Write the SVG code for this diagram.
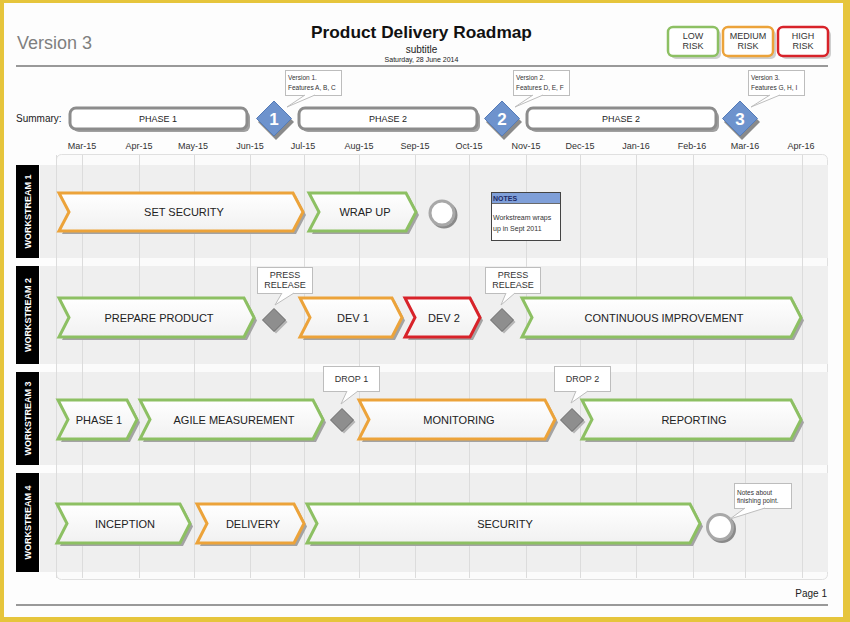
<svg xmlns="http://www.w3.org/2000/svg" width="850" height="622" viewBox="0 0 850 622">
<defs>
<linearGradient id="chev" x1="0" y1="0" x2="0" y2="1">
<stop offset="0" stop-color="#ffffff"/><stop offset="1" stop-color="#f1f1f1"/>
</linearGradient>
<style>
text{font-family:"Liberation Sans",Arial,sans-serif;fill:#222}
.ch{fill:url(#chev);stroke-width:3;stroke-linejoin:miter}
.g{stroke:#8dc063}.o{stroke:#eca33a}.r{stroke:#d8232a}
.sh{fill:#a3a3a3}
.lbl{font-size:11px;text-anchor:middle}
.mon{font-size:9px;text-anchor:middle;fill:#333}
.ws{font-size:9px;font-weight:bold;fill:#fff;text-anchor:middle}
.wsb{fill:#000}
.lane{fill:#efefef}
.vl{stroke:#dcdcdc;stroke-width:1}
.phase{fill:#fff;stroke:#8c8c8c;stroke-width:3}
.psh{fill:#a0a0a0}
.bd{fill:#6e93cd;stroke:#557bb7;stroke-width:1}
.bdn{font-size:17px;font-weight:bold;fill:#fff;text-anchor:middle}
.gd{fill:#8e8e8e;stroke:#6a6a6a;stroke-width:1}
.dsh{fill:#b5b5b5}
.co{fill:#fff;stroke:#bdbdbd;stroke-width:1}
.cot{font-size:6.5px;fill:#333}
.cob{font-size:9px;text-anchor:middle;fill:#333}
.tail{fill:#fff;stroke:#bdbdbd;stroke-width:1}
.risk{fill:#fff;stroke-width:2.5}
.rt{font-size:9px;text-anchor:middle;fill:#333}
.circ{fill:#fff;stroke:#a8a8a8;stroke-width:3}
.csh{fill:none;stroke:#8a8a8a;stroke-width:3}
</style>
</defs>

<!-- frame -->
<rect x="0" y="0" width="850" height="622" fill="#e6c53c"/>
<rect x="4" y="3" width="839" height="614" fill="#fdfdfd"/>

<!-- header -->
<g id="header">
<text x="17" y="49" style="font-size:18px;fill:#7f7f7f">Version 3</text>
<text x="421.5" y="38" style="font-size:17.3px;font-weight:bold;text-anchor:middle;fill:#111">Product Delivery Roadmap</text>
<text x="421.5" y="53" style="font-size:10px;text-anchor:middle">subtitle</text>
<text x="421.5" y="62" style="font-size:7px;text-anchor:middle">Saturday, 28 June 2014</text>
<line x1="16" y1="66" x2="828" y2="66" stroke="#777" stroke-width="1.5"/>
</g>

<g id="risk-low">
<rect x="671" y="30" width="50" height="29" rx="5" fill="#cfcfcf"/>
<rect x="668" y="27" width="50" height="29" rx="5" class="risk g"/>
<text x="693" y="39" class="rt">LOW</text><text x="693" y="49" class="rt">RISK</text>
</g>
<g id="risk-medium">
<rect x="726" y="30" width="50" height="29" rx="5" fill="#cfcfcf"/>
<rect x="723" y="27" width="50" height="29" rx="5" class="risk o"/>
<text x="748" y="39" class="rt">MEDIUM</text><text x="748" y="49" class="rt">RISK</text>
</g>
<g id="risk-high">
<rect x="781" y="30" width="50" height="29" rx="5" fill="#cfcfcf"/>
<rect x="778" y="27" width="50" height="29" rx="5" class="risk r"/>
<text x="803" y="39" class="rt">HIGH</text><text x="803" y="49" class="rt">RISK</text>
</g>

<!-- summary row -->
<text x="16" y="122" style="font-size:10px">Summary:</text>
<g id="phase1">
<rect x="73" y="111" width="177" height="21" rx="6" class="psh"/>
<rect x="70" y="108" width="177" height="21" rx="6" class="phase"/>
<text x="158" y="122" style="font-size:9px;text-anchor:middle">PHASE 1</text>
</g>
<g id="phase2a">
<rect x="302" y="111" width="178" height="21" rx="6" class="psh"/>
<rect x="299" y="108" width="178" height="21" rx="6" class="phase"/>
<text x="388" y="122" style="font-size:9px;text-anchor:middle">PHASE 2</text>
</g>
<g id="phase2b">
<rect x="530" y="111" width="189" height="21" rx="6" class="psh"/>
<rect x="527" y="108" width="189" height="21" rx="6" class="phase"/>
<text x="621" y="122" style="font-size:9px;text-anchor:middle">PHASE 2</text>
</g>

<g id="milestone1">
<path d="M276 104 L294 122 L276 140 L258 122 Z" fill="#8a8a8a"/>
<path d="M274 101 L291.5 118.5 L274 136 L256.5 118.5 Z" class="bd"/>
<text x="274" y="125" class="bdn">1</text>
</g>
<g id="milestone2">
<path d="M504 104 L522 122 L504 140 L486 122 Z" fill="#8a8a8a"/>
<path d="M502 101 L519.5 118.5 L502 136 L484.5 118.5 Z" class="bd"/>
<text x="502" y="125" class="bdn">2</text>
</g>
<g id="milestone3">
<path d="M742 104 L760 122 L742 140 L724 122 Z" fill="#8a8a8a"/>
<path d="M740 101 L757.5 118.5 L740 136 L722.5 118.5 Z" class="bd"/>
<text x="740" y="125" class="bdn">3</text>
</g>

<g id="callout-v1">
<rect x="285.5" y="70.5" width="56" height="25" class="co"/>
<text x="288" y="80" class="cot">Version 1.</text><text x="288" y="89.5" class="cot">Features A, B, C</text>
</g>
<g id="callout-v2">
<rect x="513.5" y="70.5" width="56" height="25" class="co"/>
<text x="516" y="80" class="cot">Version 2.</text><text x="516" y="89.5" class="cot">Features D, E, F</text>
</g>
<g id="callout-v3">
<rect x="748.5" y="70.5" width="56" height="25" class="co"/>
<text x="751" y="80" class="cot">Version 3.</text><text x="751" y="89.5" class="cot">Features G, H, I</text>
</g>

<!-- months -->
<g id="months">
<text x="82" y="149" class="mon">Mar-15</text>
<text x="139" y="149" class="mon">Apr-15</text>
<text x="193" y="149" class="mon">May-15</text>
<text x="250" y="149" class="mon">Jun-15</text>
<text x="303" y="149" class="mon">Jul-15</text>
<text x="359" y="149" class="mon">Aug-15</text>
<text x="415" y="149" class="mon">Sep-15</text>
<text x="469" y="149" class="mon">Oct-15</text>
<text x="526" y="149" class="mon">Nov-15</text>
<text x="580" y="149" class="mon">Dec-15</text>
<text x="636" y="149" class="mon">Jan-16</text>
<text x="692" y="149" class="mon">Feb-16</text>
<text x="745" y="149" class="mon">Mar-16</text>
<text x="801" y="149" class="mon">Apr-16</text>
</g>

<!-- grid -->
<g id="grid">
<rect x="56.5" y="154.5" width="771" height="425" rx="5" fill="#fbfbfb" stroke="#e0e0e0"/>
<rect x="40" y="165" width="788" height="93" class="lane"/>
<rect x="40" y="266" width="788" height="98" class="lane"/>
<rect x="40" y="372" width="788" height="93" class="lane"/>
<rect x="40" y="473" width="788" height="99" class="lane"/>
<g class="vl">
<line x1="56.5" y1="155" x2="56.5" y2="578"/>
<line x1="82.5" y1="155" x2="82.5" y2="578"/>
<line x1="139.5" y1="155" x2="139.5" y2="578"/>
<line x1="194.5" y1="155" x2="194.5" y2="578"/>
<line x1="250.5" y1="155" x2="250.5" y2="578"/>
<line x1="304.5" y1="155" x2="304.5" y2="578"/>
<line x1="359.5" y1="155" x2="359.5" y2="578"/>
<line x1="415.5" y1="155" x2="415.5" y2="578"/>
<line x1="469.5" y1="155" x2="469.5" y2="578"/>
<line x1="526.5" y1="155" x2="526.5" y2="578"/>
<line x1="580.5" y1="155" x2="580.5" y2="578"/>
<line x1="636.5" y1="155" x2="636.5" y2="578"/>
<line x1="693.5" y1="155" x2="693.5" y2="578"/>
<line x1="745.5" y1="155" x2="745.5" y2="578"/>
<line x1="802.5" y1="155" x2="802.5" y2="578"/>
</g>
</g>

<!-- workstream labels -->
<g id="ws1-label"><rect x="16" y="165" width="23" height="93" class="wsb"/><text transform="translate(31 211.5) rotate(-90)" class="ws">WORKSTREAM 1</text></g>
<g id="ws2-label"><rect x="16" y="266" width="23" height="98" class="wsb"/><text transform="translate(31 315) rotate(-90)" class="ws">WORKSTREAM 2</text></g>
<g id="ws3-label"><rect x="16" y="372" width="23" height="93" class="wsb"/><text transform="translate(31 418.5) rotate(-90)" class="ws">WORKSTREAM 3</text></g>
<g id="ws4-label"><rect x="16" y="473" width="23" height="99" class="wsb"/><text transform="translate(31 522.5) rotate(-90)" class="ws">WORKSTREAM 4</text></g>

<!-- workstream 1 -->
<g id="set-security">
<path d="M62 196 H296 L306 215 L296 234 H62 L72 215 Z" class="sh"/>
<path d="M59 193 H293 L303 212 L293 231 H59 L69 212 Z" class="ch o"/>
<text x="184" y="216" class="lbl">SET SECURITY</text>
</g>
<g id="wrap-up">
<path d="M312 196 H409 L419 215 L409 234 H312 L322 215 Z" class="sh"/>
<path d="M309 193 H406 L416 212 L406 231 H309 L319 212 Z" class="ch g"/>
<text x="365" y="216" class="lbl">WRAP UP</text>
</g>
<g id="ws1-end">
<circle cx="444" cy="215" r="12" class="csh"/>
<circle cx="442" cy="213" r="12" class="circ"/>
</g>
<g id="notes">
<rect x="491.5" y="192.5" width="69" height="48" fill="#fff" stroke="#444"/>
<rect x="492" y="193" width="68" height="10" fill="#7f9fd8"/>
<line x1="492" y1="203.5" x2="560" y2="203.5" stroke="#444" stroke-width="0.8"/>
<text x="493" y="200.5" style="font-size:7px;font-weight:bold;fill:#1d2a66">NOTES</text>
<text x="493" y="219.5" style="font-size:7px;fill:#333">Workstream wraps</text>
<text x="493" y="230.5" style="font-size:7px;fill:#333">up in Sept 2011</text>
</g>

<!-- workstream 2 -->
<g id="prepare-product">
<path d="M62 301 H247 L257 320.5 L247 340 H62 L72 320.5 Z" class="sh"/>
<path d="M59 298 H244 L254 317.5 L244 337 H59 L69 317.5 Z" class="ch g"/>
<text x="159" y="321.5" class="lbl">PREPARE PRODUCT</text>
</g>
<g id="press-release-1-ms">
<path d="M276 310.5 L287.5 322 L276 333.5 L264.5 322 Z" class="dsh"/>
<path d="M274 308.5 L285.5 320 L274 331.5 L262.5 320 Z" class="gd"/>
</g>
<g id="press-release-1">
<rect x="257.5" y="267.5" width="55" height="26" class="co"/>
<text x="285" y="278" class="cob">PRESS</text><text x="285" y="288" class="cob">RELEASE</text>
</g>
<g id="dev1">
<path d="M303 301 H395 L405 320.5 L395 340 H303 L313 320.5 Z" class="sh"/>
<path d="M300 298 H392 L402 317.5 L392 337 H300 L310 317.5 Z" class="ch o"/>
<text x="353" y="321.5" class="lbl">DEV 1</text>
</g>
<g id="dev2">
<path d="M408 301 H473 L483 320.5 L473 340 H408 L418 320.5 Z" class="sh"/>
<path d="M405 298 H470 L480 317.5 L470 337 H405 L415 317.5 Z" class="ch r"/>
<text x="444" y="321.5" class="lbl">DEV 2</text>
</g>
<g id="press-release-2-ms">
<path d="M504 310.5 L515.5 322 L504 333.5 L492.5 322 Z" class="dsh"/>
<path d="M502 308.5 L513.5 320 L502 331.5 L490.5 320 Z" class="gd"/>
</g>
<g id="press-release-2">
<rect x="485.5" y="267.5" width="55" height="26" class="co"/>
<text x="513" y="278" class="cob">PRESS</text><text x="513" y="288" class="cob">RELEASE</text>
</g>
<g id="continuous-improvement">
<path d="M525 301 H794 L804 320.5 L794 340 H525 L535 320.5 Z" class="sh"/>
<path d="M522 298 H791 L801 317.5 L791 337 H522 L532 317.5 Z" class="ch g"/>
<text x="664" y="321.5" class="lbl">CONTINUOUS IMPROVEMENT</text>
</g>

<!-- workstream 3 -->
<g id="ws3-phase1">
<path d="M61 403 H130 L140 422.5 L130 442 H61 L71 422.5 Z" class="sh"/>
<path d="M58 400 H127 L137 419.5 L127 439 H58 L68 419.5 Z" class="ch g"/>
<text x="99" y="423.5" class="lbl">PHASE 1</text>
</g>
<g id="agile-measurement">
<path d="M143 403 H316 L326 422.5 L316 442 H143 L153 422.5 Z" class="sh"/>
<path d="M140 400 H313 L323 419.5 L313 439 H140 L150 419.5 Z" class="ch g"/>
<text x="234" y="423.5" class="lbl">AGILE MEASUREMENT</text>
</g>
<g id="drop1-ms">
<path d="M344 410.5 L355.5 422 L344 433.5 L332.5 422 Z" class="dsh"/>
<path d="M342 408.5 L353.5 420 L342 431.5 L330.5 420 Z" class="gd"/>
</g>
<g id="drop1">
<rect x="323.5" y="366.5" width="56" height="25" class="co"/>
<text x="351.5" y="381.5" class="cob">DROP 1</text>
</g>
<g id="monitoring">
<path d="M362 403 H548 L558 422.5 L548 442 H362 L372 422.5 Z" class="sh"/>
<path d="M359 400 H545 L555 419.5 L545 439 H359 L369 419.5 Z" class="ch o"/>
<text x="459" y="423.5" class="lbl">MONITORING</text>
</g>
<g id="drop2-ms">
<path d="M574 410.5 L585.5 422 L574 433.5 L562.5 422 Z" class="dsh"/>
<path d="M572 408.5 L583.5 420 L572 431.5 L560.5 420 Z" class="gd"/>
</g>
<g id="drop2">
<rect x="554.5" y="366.5" width="56" height="25" class="co"/>
<text x="582.5" y="381.5" class="cob">DROP 2</text>
</g>
<g id="reporting">
<path d="M585 403 H794 L804 422.5 L794 442 H585 L595 422.5 Z" class="sh"/>
<path d="M582 400 H791 L801 419.5 L791 439 H582 L592 419.5 Z" class="ch g"/>
<text x="694" y="423.5" class="lbl">REPORTING</text>
</g>

<!-- workstream 4 -->
<g id="inception">
<path d="M60 507 H183 L193 526.5 L183 546 H60 L70 526.5 Z" class="sh"/>
<path d="M57 504 H180 L190 523.5 L180 543 H57 L67 523.5 Z" class="ch g"/>
<text x="125" y="527.5" class="lbl">INCEPTION</text>
</g>
<g id="delivery">
<path d="M200 507 H297 L307 526.5 L297 546 H200 L210 526.5 Z" class="sh"/>
<path d="M197 504 H294 L304 523.5 L294 543 H197 L207 523.5 Z" class="ch o"/>
<text x="253" y="527.5" class="lbl">DELIVERY</text>
</g>
<g id="security">
<path d="M310 507 H693 L703 526.5 L693 546 H310 L320 526.5 Z" class="sh"/>
<path d="M307 504 H690 L700 523.5 L690 543 H307 L317 523.5 Z" class="ch g"/>
<text x="505" y="527.5" class="lbl">SECURITY</text>
</g>
<g id="ws4-end">
<circle cx="722" cy="529" r="12.5" class="csh"/>
<circle cx="720" cy="527" r="12.5" class="circ"/>
</g>
<g id="finish-note">
<rect x="734.5" y="483.5" width="57" height="25" class="co"/>
<text x="737" y="494.5" class="cot">Notes about</text><text x="737" y="503" class="cot">finishing point.</text>
</g>

<!-- connectors (callout pointers) -->
<g id="connectors">
<path d="M305 95 L287 107 L315 95" class="tail"/>
<path d="M533 95 L515 107 L543 95" class="tail"/>
<path d="M770 95 L751 107 L780 95" class="tail"/>
<path d="M282 293 L275 305 L294 293" class="tail"/>
<path d="M506 293 L501 305 L515 293" class="tail"/>
<path d="M347 391 L341 404 L358 391" class="tail"/>
<path d="M576 391 L571 403 L588 391" class="tail"/>
<path d="M745 508 L730 519 L765 508" class="tail"/>
</g>

<!-- footer -->
<g id="footer">
<line x1="16" y1="605" x2="828" y2="605" stroke="#777" stroke-width="1.5"/>
<text x="827" y="597" style="font-size:10px;text-anchor:end">Page 1</text>
</g>
</svg>
